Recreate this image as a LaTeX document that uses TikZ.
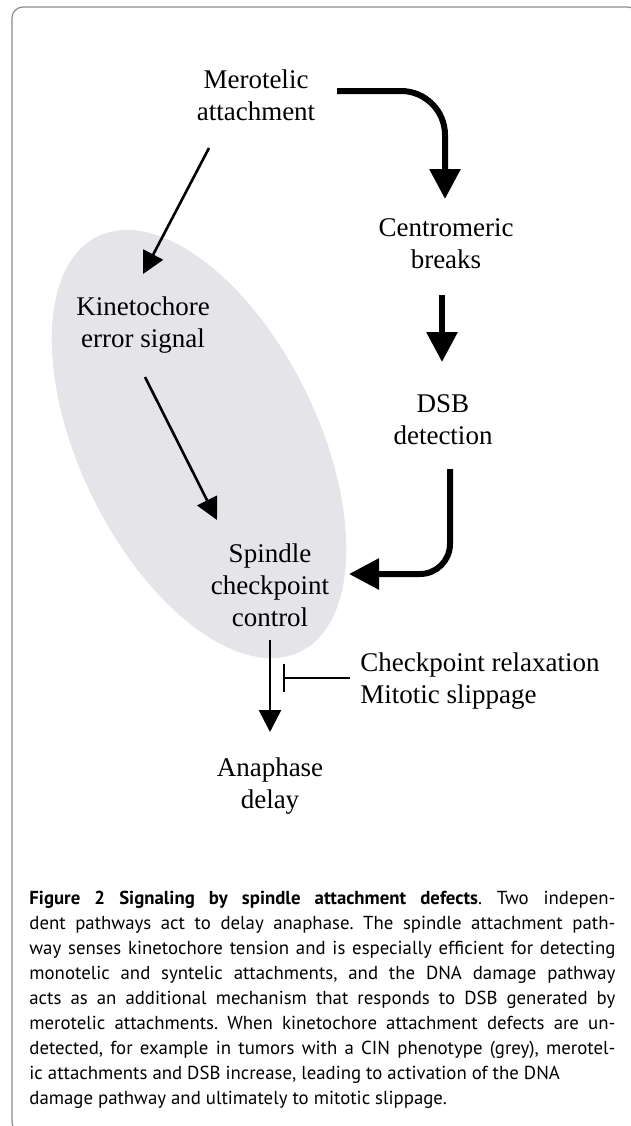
\documentclass[tikz,border=0pt]{standalone}
\usepackage{fontspec}
\setmainfont{Liberation Serif}
\setsansfont{PT Sans}
\usetikzlibrary{arrows.meta}
\definecolor{ellgray}{RGB}{229,228,232}
\definecolor{framegray}{RGB}{140,140,140}
\frenchspacing

\begin{document}
\begin{tikzpicture}[x=0.5pt, y=-0.5pt,
    lbl/.style={font=\fontsize{13.5}{16}\selectfont, align=center, inner sep=0pt},
    fatarrow/.style={line width=3pt, -{Triangle[width=15pt,length=15pt]}},
    slimarrow/.style={line width=1.3pt, -{Triangle[width=11pt,length=11pt]}},
    midarrow/.style={line width=1.3pt, -{Triangle[width=11pt,length=11pt]}},
    blockline/.style={line width=1.2pt, -{Bar[width=14pt]}}]
    \useasboundingbox (0,0) rectangle (631,1126);
    \clip (0,0) rectangle (631,1126);
    \draw[framegray, line width=0.6pt, rounded corners=5.5pt] (12,7) rectangle (639,1133);
    \fill[ellgray, rotate around={26:(199,444)}] (199,444) ellipse [x radius=59.5pt, y radius=115.5pt];
    \node[lbl] (mer) at (256,95) {Merotelic\\attachment};
    \node[lbl] (cen) at (446,244) {Centromeric\\breaks};
    \node[lbl] (dsb) at (443,420) {DSB\\detection};
    \node[lbl] (kin) at (143,325) {Kinetochore\\error signal};
    \node[lbl] (spc) at (270,585) {Spindle\\checkpoint\\control};
    \node[lbl, anchor=west, align=left] (rel) at (360,681) {Checkpoint relaxation\\Mitotic slippage};
    \node[lbl] (ana) at (270,786) {Anaphase\\delay};
    \coordinate (stop) at (283,678);
    \draw[fatarrow, rounded corners=22pt] ([shift={(81,-4)}]mer.center) -| ([shift={(-1,-45)}]cen.center);
    \draw[fatarrow] ([shift={(-4,51)}]cen.center) -- ([shift={(-1,-58)}]dsb.center);
    \draw[slimarrow] ([shift={(-47,53)}]mer.center) -- ([shift={(0,-51)}]kin.center);
    \draw[slimarrow] ([shift={(2,52)}]kin.center) -- ([shift={(-53,-65)}]spc.center);
    \draw[fatarrow, rounded corners=15pt] ([shift={(7,49)}]dsb.center) |- ([shift={(79,-11)}]spc.center);
    \draw[midarrow] ([shift={(0,55)}]spc.center) -- ([shift={(0,-54)}]ana.center);
    \draw[blockline] ([shift={(-10,-3)}]rel.west) -- (stop);
    \node[font=\sffamily\fontsize{9.4}{12.5}\selectfont, text width=293pt, align=justify,
        anchor=north west, inner sep=0pt] (cap) at (29,891)
        {\textbf{Figure 2 Signaling by spindle attachment defects}. Two indepen-\linebreak
        dent pathways act to delay anaphase. The spindle attachment path-\linebreak
        way senses kinetochore tension and is especially efficient for detecting\linebreak
        monotelic and syntelic attachments, and the DNA damage pathway\linebreak
        acts as an additional mechanism that responds to DSB generated by\linebreak
        merotelic attachments. When kinetochore attachment defects are un-\linebreak
        detected, for example in tumors with a CIN phenotype (grey), merotel-\linebreak
        ic attachments and DSB increase, leading to activation of the DNA\\
        damage pathway and ultimately to mitotic slippage.};
\end{tikzpicture}
\end{document}
